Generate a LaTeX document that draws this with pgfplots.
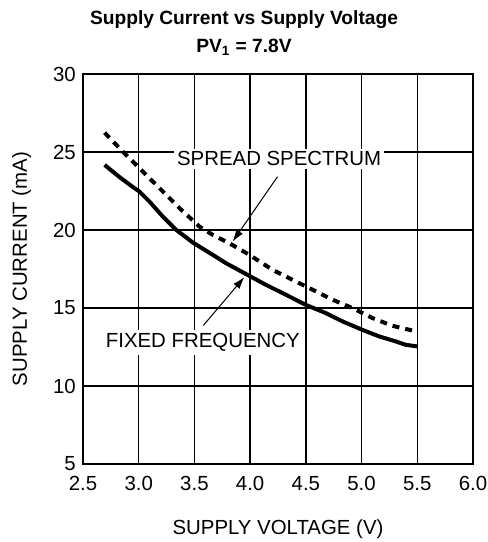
\documentclass[border=0pt]{standalone}
\usepackage{pgfplots}
\pgfplotsset{compat=1.18}
\usepackage{fontspec}
\setmainfont{Liberation Sans}
\usetikzlibrary{arrows.meta}

\begin{document}
\begin{tikzpicture}
  \fontsize{10.2bp}{12bp}\selectfont
  % fixed page: axis frame is (0,0)--(195bp,195bp)
  \path[use as bounding box] (-41.5bp,-39bp) rectangle (202.5bp,232bp);
  \begin{axis}[
      at={(0,0)}, anchor=south west,
      scale only axis,
      width=195bp, height=195bp,
      xmin=2.5, xmax=6.0,
      ymin=5, ymax=30,
      xtick={2.5,3.0,...,6.0},
      xticklabels={2.5,3.0,3.5,4.0,4.5,5.0,5.5,6.0},
      ytick={5,10,...,30},
      yticklabels={5,10,15,20,25,30},
      major tick length=0pt,
      grid=major,
      grid style={black, line width=0.7bp},
      axis line style={line width=1bp},
      tick label style={font=\fontsize{10.2bp}{12bp}\selectfont},
      xticklabel style={yshift=-2.5bp},
      xlabel={SUPPLY VOLTAGE (V)},
      ylabel={SUPPLY CURRENT (mA)},
      label style={font=\fontsize{10.2bp}{12bp}\selectfont},
      xlabel style={at={(axis description cs:0.5,-0.1795)}, anchor=base},
      ylabel style={at={(axis description cs:-0.1436,0.5)}, anchor=base},
    ]
    % spread spectrum (dashed)
    \addplot[black, line width=2bp, dash pattern=on 3.5bp off 3bp] coordinates {
      (2.694,26.24) (2.843,25.13) (3.007,23.96) (3.187,22.68) (3.366,21.40)
      (3.545,20.22) (3.664,19.69) (3.813,19.15) (3.993,18.41) (4.200,17.45)
      (4.380,16.81) (4.560,16.17) (4.740,15.53) (4.920,14.99) (5.100,14.35)
      (5.276,13.86) (5.455,13.56)
    };
    % fixed frequency (solid)
    \addplot[black, line width=2bp] coordinates {
      (2.694,24.17) (2.830,23.38) (2.933,22.83) (3.007,22.46) (3.097,21.82)
      (3.216,20.86) (3.336,20.01) (3.485,19.20) (3.664,18.41) (3.784,17.87)
      (3.993,17.06) (4.140,16.49) (4.320,15.85) (4.500,15.20) (4.680,14.67)
      (4.830,14.14) (5.007,13.60) (5.157,13.18) (5.306,12.86) (5.396,12.64)
      (5.500,12.54)
    };
    \draw[line width=0.5bp, -{Latex[length=6bp,width=4bp]}]
      (axis cs:4.246,23.42) -- (axis cs:3.843,19.26);
    \draw[line width=0.5bp, -{Latex[length=6bp,width=4bp]}]
      (axis cs:3.58,13.88) -- (axis cs:3.948,16.98);
    \node[fill=white, inner sep=1.5bp] at (axis cs:4.26,24.56) {SPREAD SPECTRUM};
    \node[fill=white, inner sep=1.5bp] at (axis cs:3.575,12.79) {FIXED FREQUENCY};
  \end{axis}
  \node[anchor=base, font=\bfseries\fontsize{9.6bp}{11bp}\selectfont] at (80.5bp,219.5bp) {Supply Current vs Supply Voltage};
  \node[anchor=base, font=\bfseries\fontsize{9.6bp}{11bp}\selectfont] at (80.5bp,205.5bp) {PV\textsubscript{1} = 7.8V};
\end{tikzpicture}
\end{document}
